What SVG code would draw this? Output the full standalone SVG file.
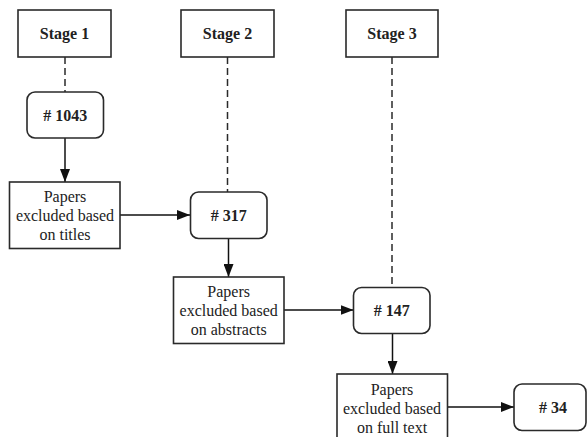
<svg xmlns="http://www.w3.org/2000/svg" width="587" height="437" viewBox="0 0 587 437">
<defs>
<marker id="ah" viewBox="0 0 13 10" refX="13" refY="5" markerWidth="13" markerHeight="10" markerUnits="userSpaceOnUse" orient="auto">
<path d="M0,0 L13,5 L0,10 Z" fill="#111"/>
</marker>
<style>
.box{fill:#fff;stroke:#2a2a2a;stroke-width:1.6}
.t{font-family:"Liberation Serif","Times New Roman",serif;font-size:16px;fill:#222;text-anchor:middle}
.b{font-weight:bold}
.dash{stroke:#2a2a2a;stroke-width:1.5;stroke-dasharray:7 4;fill:none}
.arr{stroke:#111;stroke-width:1.5;fill:none;marker-end:url(#ah)}
</style>
</defs>
<rect width="587" height="437" fill="#fff"/>
<g id="connectors">
<line class="dash" x1="65" y1="57" x2="65" y2="92"/>
<line class="dash" x1="227.5" y1="57" x2="227.5" y2="192"/>
<line class="dash" x1="392" y1="57" x2="392" y2="287"/>
<line class="arr" x1="65" y1="138" x2="65" y2="182"/>
<line class="arr" x1="120" y1="215" x2="190" y2="215"/>
<line class="arr" x1="228.5" y1="238.5" x2="228.5" y2="277"/>
<line class="arr" x1="284" y1="310" x2="353.5" y2="310"/>
<line class="arr" x1="392.5" y1="333.5" x2="392.5" y2="374"/>
<line class="arr" x1="447" y1="407" x2="514" y2="407"/>
</g>
<g id="stage1"><rect class="box" x="18" y="10" width="93" height="47"/><text class="t b" x="64.5" y="39">Stage 1</text></g>
<g id="stage2"><rect class="box" x="181" y="10" width="93" height="47"/><text class="t b" x="227.5" y="39">Stage 2</text></g>
<g id="stage3"><rect class="box" x="346" y="10" width="92" height="47"/><text class="t b" x="392" y="39">Stage 3</text></g>
<g id="n1043"><rect class="box" x="27" y="92" width="76.5" height="46" rx="8"/><text class="t b" x="65.3" y="121">#&#160;1043</text></g>
<g id="titles"><rect class="box" x="9.5" y="182" width="110.5" height="66.5"/>
<text class="t" x="65" y="202">Papers</text><text class="t" x="65" y="221">excluded based</text><text class="t" x="65" y="240">on titles</text></g>
<g id="n317"><rect class="box" x="190.5" y="192" width="76.5" height="46.5" rx="8"/><text class="t b" x="228.7" y="221">#&#160;317</text></g>
<g id="abstracts"><rect class="box" x="173.5" y="277" width="110.5" height="66.5"/>
<text class="t" x="228.7" y="297">Papers</text><text class="t" x="228.7" y="316">excluded based</text><text class="t" x="228.7" y="335">on abstracts</text></g>
<g id="n147"><rect class="box" x="353.5" y="287.5" width="76.5" height="46" rx="8"/><text class="t b" x="391.7" y="316">#&#160;147</text></g>
<g id="fulltext"><rect class="box" x="337" y="374" width="110.5" height="70"/>
<text class="t" x="392" y="394.5">Papers</text><text class="t" x="392" y="413.5">excluded based</text><text class="t" x="392" y="432.5">on full text</text></g>
<g id="n34"><rect class="box" x="514" y="384" width="72" height="46.5" rx="8"/><text class="t b" x="553" y="413">#&#160;34</text></g>
</svg>
